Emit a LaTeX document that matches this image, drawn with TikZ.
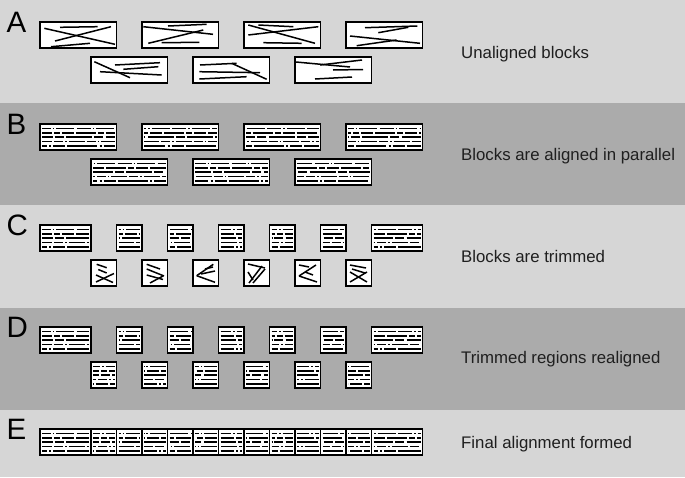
\documentclass[tikz,border=0pt]{standalone}
\usepackage{fontspec}
\setmainfont{Liberation Sans}
\usetikzlibrary{positioning}
\definecolor{bandlight}{RGB}{214,214,214}
\definecolor{banddark}{RGB}{171,171,171}

% striped (aligned) block: left index, right index, top y, phase step
\newcommand{\stripebox}[4]{%
  \fill[white] (40+25.5*#1,#3) rectangle (40+25.5*#2,#3+26);
  \foreach \i in {1,...,5}{
    \pgfmathsetmacro\ph{#4*\i*1.7}
    \draw[stripe,ln\i,dash phase=\ph pt]
      (40+25.5*#1+2,#3+0.3+4.3*\i) -- (40+25.5*#2-2,#3+0.3+4.3*\i);
  }
  \draw[blockline] (40+25.5*#1,#3) rectangle (40+25.5*#2,#3+26);
}
% unaligned block: left index, right index, top y, segments
\newcommand{\slantbox}[4]{%
  \fill[white] (40+25.5*#1,#3) rectangle (40+25.5*#2,#3+26);
  \foreach \ax/\ay/\bx/\by in {#4}
    \draw[slant] (40+25.5*#1+\ax,#3+\ay) -- (40+25.5*#1+\bx,#3+\by);
  \draw[blockline] (40+25.5*#1,#3) rectangle (40+25.5*#2,#3+26);
}

\begin{document}
\begin{tikzpicture}[x=1pt,y=-1pt,
    blockline/.style={draw=black,line width=1.5pt},
    stripe/.style={black,line width=1.5pt},
    slant/.style={black,line width=1.5pt},
    ln1/.style={dash pattern=on 14pt off 2pt on 1.5pt off 2pt on 18pt off 2.5pt},
    ln2/.style={dash pattern=on 20pt off 2pt on 6pt off 2pt on 12pt off 2pt},
    ln3/.style={dash pattern=on 26pt off 2pt on 9pt off 2.5pt},
    ln4/.style={dash pattern=on 9pt off 2pt on 1.5pt off 2pt on 16pt off 2pt},
    ln5/.style={dash pattern=on 30pt off 2.5pt on 2pt off 2pt on 12pt off 2pt},
    letter/.style={anchor=base west,inner sep=0pt,
                   font=\fontsize{29.5}{30}\selectfont},
    caption/.style={anchor=base west,inner sep=0pt,text=black!88,
                    font=\fontsize{16.8}{19}\selectfont}]
  \useasboundingbox (0,0) rectangle (685,477);
  % bands
  \fill[bandlight] (0,0) rectangle (685,477);
  \fill[banddark] (0,103) rectangle (685,205);
  \fill[banddark] (0,308) rectangle (685,410);

  \node[letter] (capA) at (6.5,32)  {A};
  \node[letter] (capB) at (6.5,134) {B};
  \node[letter] (capC) at (6.5,235) {C};
  \node[letter] (capD) at (6.5,337) {D};
  \node[letter] (capE) at (6.5,439) {E};

  \node[caption] (txtA) at (461,58)  {Unaligned blocks};
  \node[caption] (txtB) at (461,160) {Blocks are aligned in parallel};
  \node[caption] (txtC) at (461,262) {Blocks are trimmed};
  \node[caption] (txtD) at (461,363) {Trimmed regions realigned};
  \node[caption] (txtE) at (461,448) {Final alignment formed};

  % A: unaligned blocks
  \slantbox{0}{3}{22}{4.3/6.3/75/22.3, 15/19/71/4.7, 20/5.3/57.7/4.7, 11/24.7/50/21.3}
  \slantbox{4}{7}{22}{1.3/4.7/71/12.3, 6.3/21.3/61.3/8, 26/4/64.7/2.3, 19.7/20.7/57.3/20.3}
  \slantbox{8}{11}{22}{4.3/3/71/21.3, 4.3/13/74.3/4.7, 14.3/3/49.3/4.7, 19.3/20.7/57.7/21.3}
  \slantbox{12}{15}{22}{19/5.7/71.3/4, 32.3/10.7/62.3/5.3, 4/14/74/21.3, 10.7/23.7/50.7/18}
  \slantbox{2}{5}{57}{3.3/4.7/39/20.7, 24/8/69/5.7, 32.3/12.3/67.3/9.7, 9/14.7/70.7/18}
  \slantbox{6}{9}{57}{7/8/43.7/6.3, 38.7/6.3/73.7/22.3, 6.3/14.7/67/15.7, 6.3/22/53.7/19.7}
  \slantbox{10}{13}{57}{1/5/55/10, 25/8/67/3, 38/13/68/12.5, 20/22/57/20}

  % B: aligned blocks
  \stripebox{0}{3}{124}{3}
  \stripebox{4}{7}{124}{7}
  \stripebox{8}{11}{124}{11}
  \stripebox{12}{15}{124}{5}
  \stripebox{2}{5}{159}{9}
  \stripebox{6}{9}{159}{2}
  \stripebox{10}{13}{159}{13}

  % C, D, E: trimmed pieces
  \foreach \a/\b/\p in {0/2/3,3/4/7,5/6/11,7/8/2,9/10/5,11/12/13,13/15/9}{
    \stripebox{\a}{\b}{225}{\p}
    \stripebox{\a}{\b}{327}{\p}
    \stripebox{\a}{\b}{429}{\p}
  }
  \foreach \a/\b/\p in {2/3/4,4/5/8,6/7/6,8/9/12,10/11/1,12/13/10}{
    \stripebox{\a}{\b}{362}{\p}
    \stripebox{\a}{\b}{429}{\p}
  }
  \slantbox{2}{3}{260}{5.7/4.3/15.7/7.7, 7.3/9.5/15.7/13, 5/22/23/13.5, 5/15/22/22.5}
  \slantbox{4}{5}{260}{4.7/4.3/18/9, 4.7/9/22/16, 4.7/15/21/19.5, 8/23/21/16}
  \slantbox{6}{7}{260}{3.7/15.7/20.3/4.3, 3.7/15.7/22/22.3, 8/14/22/11, 12/9/20/7}
  \slantbox{8}{9}{260}{4/4/21/8, 5/23/18/6, 9/23/21/9, 4/12/9/20}
  \slantbox{10}{11}{260}{4/5/14/7, 4/16/21/5, 4/16/22/22, 10/12/18/15}
  \slantbox{12}{13}{260}{4/5/20/8, 4/22/21/12, 4/12/21/22, 6/9/19/13}
\end{tikzpicture}
\end{document}
